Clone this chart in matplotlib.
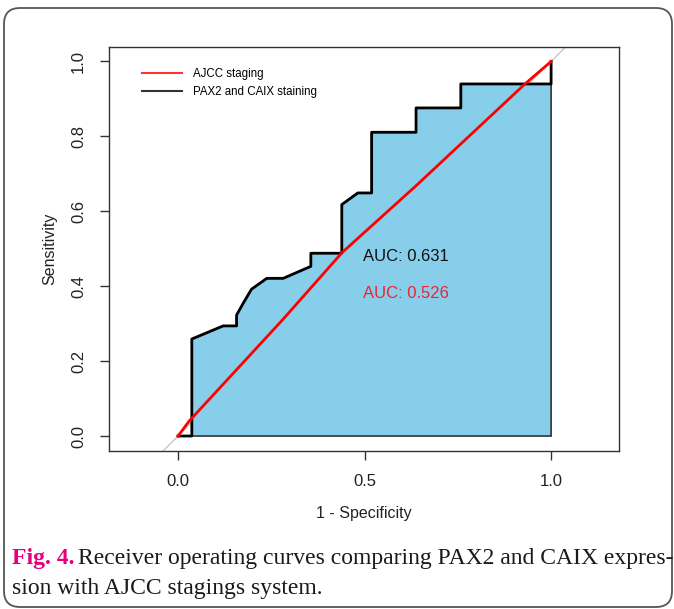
import numpy as np
import matplotlib
matplotlib.use("Agg")
import matplotlib.pyplot as plt
from matplotlib.lines import Line2D
from matplotlib.patches import FancyBboxPatch, Polygon
from matplotlib.transforms import IdentityTransform

# ---- data (x = 1 - specificity, y = sensitivity) ----
pax_x = [0.0, 0.037, 0.037, 0.121, 0.157, 0.157, 0.175, 0.197, 0.238, 0.282,
         0.356, 0.356, 0.439, 0.439, 0.482, 0.519, 0.519, 0.638, 0.638,
         0.758, 0.758, 1.0, 1.0]
pax_y = [0.0, 0.0, 0.259, 0.294, 0.294, 0.323, 0.355, 0.392, 0.421, 0.421,
         0.453, 0.488, 0.488, 0.618, 0.649, 0.649, 0.811, 0.811, 0.876,
         0.876, 0.940, 0.940, 1.0]

ajcc_x = [0.0, 0.03, 0.28, 0.44, 0.64, 0.93, 1.0]
ajcc_y = [0.0, 0.04, 0.31, 0.49, 0.67, 0.94, 1.0]

auc_pax = 0.631
auc_ajcc = 0.526

x_ticks = [0.0, 0.5, 1.0]
y_ticks = [0.0, 0.2, 0.4, 0.6, 0.8, 1.0]

SANS = ["Liberation Sans", "DejaVu Sans"]
SERIF = ["Liberation Serif", "DejaVu Serif"]
plt.rcParams["font.family"] = SANS

W, H = 674, 609
fig = plt.figure(figsize=(W / 100, H / 100), dpi=100)
fig.patch.set_facecolor("white")

# rounded panel border
panel = FancyBboxPatch((4, 2), 668, 599, boxstyle="round,pad=0,rounding_size=16",
                       transform=IdentityTransform(), facecolor="none",
                       edgecolor="#555555", linewidth=1.3)
fig.patches.append(panel)

left, right, top, bottom = 109, 619, 46.5, 451
ax = fig.add_axes([left / W, 1 - bottom / H, (right - left) / W, (bottom - top) / H])
ax.set_xlim(-0.185, 1.182)
ax.set_ylim(-0.04, 1.04)

# diagonal reference
ax.axline((0, 0), (1, 1), color="#c8c8c8", lw=1, zorder=1)

# area under PAX2/CAIX curve
poly = Polygon(list(zip(pax_x, pax_y)) + [(1.0, 0.0)], closed=True,
               facecolor="#87CEEB", edgecolor="#333333", lw=1.2, zorder=2)
ax.add_patch(poly)

ax.plot(pax_x, pax_y, color="black", lw=2, zorder=3)
ax.plot(ajcc_x, ajcc_y, color="#ff0000", lw=2, zorder=4)

ax.text(0.496, 0.479, f"AUC: {auc_pax:.3f}", color="#111111", fontsize=12,
        ha="left", va="center", zorder=5)
ax.text(0.496, 0.38, f"AUC: {auc_ajcc:.3f}", color="#ee2233", fontsize=12,
        ha="left", va="center", zorder=5)

handles = [Line2D([], [], color="#ff3333", lw=1.5),
           Line2D([], [], color="#333333", lw=1.5)]
ax.legend(handles, ["AJCC staging", "PAX2 and CAIX staining"], loc="upper left",
          bbox_to_anchor=(0.045, 0.972), frameon=False, fontsize=8.3,
          handlelength=3.4, handletextpad=1.0, labelspacing=0.5)

ax.set_xticks(x_ticks)
ax.set_xticklabels([f"{v:.1f}" for v in x_ticks])
ax.set_yticks(y_ticks)
ax.set_yticklabels([f"{v:.1f}" for v in y_ticks], rotation=90, va="center")
ax.tick_params(direction="out", length=6.5, width=1, colors="#333333",
               labelcolor="#222222", labelsize=12, pad=10)
for s in ax.spines.values():
    s.set_color("#333333")
    s.set_linewidth(1)

ax.set_xlabel("1 - Specificity", fontsize=11.5, color="#222222", labelpad=12)
ax.set_ylabel("Sensitivity", fontsize=11.5, color="#222222", labelpad=10)

# caption
cap_fs = 17
t1 = fig.text(12 / W, 1 - 564 / H, "Fig. 4.", family=SERIF, fontweight="bold",
              color="#e6007e", fontsize=cap_fs, ha="left", va="baseline")
fig.canvas.draw()
bb = t1.get_window_extent()
fig.text((bb.x1 + 4) / W, 1 - 564 / H,
         "Receiver operating curves comparing PAX2 and CAIX expres-",
         family=SERIF, color="#1a1a1a", fontsize=cap_fs, ha="left", va="baseline")
fig.text(12 / W, 1 - 594 / H, "sion with AJCC stagings system.", family=SERIF,
         color="#1a1a1a", fontsize=cap_fs, ha="left", va="baseline")

fig.savefig("out.png", dpi=100)
